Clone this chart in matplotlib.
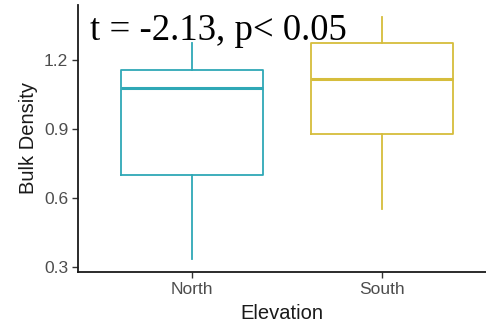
import matplotlib
matplotlib.use("Agg")
import matplotlib.pyplot as plt

# Summary statistics for bulk density by elevation group
groups = ["North", "South"]
whisker_low = [0.335, 0.552]
q1 = [0.700, 0.878]
median = [1.078, 1.117]
q3 = [1.157, 1.274]
whisker_high = [1.274, 1.387]
colors = ["#2FA8B6", "#D6BD3C"]

yticks = [0.3, 0.6, 0.9, 1.2]
ytick_labels = ["0.3", "0.6", "0.9", "1.2"]
annotation = "t = -2.13, p< 0.05"

plt.rcParams["font.family"] = ["Liberation Sans", "DejaVu Sans"]

fig = plt.figure(figsize=(4.86, 3.29), dpi=100)
ax = fig.add_axes([78 / 486, 57 / 329, 408 / 486, 267 / 329])

stats = []
for i, g in enumerate(groups):
    stats.append({
        "label": g,
        "whislo": whisker_low[i],
        "q1": q1[i],
        "med": median[i],
        "q3": q3[i],
        "whishi": whisker_high[i],
        "fliers": [],
    })

for i, s in enumerate(stats):
    c = colors[i]
    ax.bxp([s], positions=[i], widths=0.75, showfliers=False, showcaps=False,
           boxprops=dict(color=c, linewidth=1.3),
           whiskerprops=dict(color=c, linewidth=1.3),
           medianprops=dict(color=c, linewidth=2.2),
           manage_ticks=False)

ax.set_xlim(-0.6, 1.547)
ax.set_ylim(0.278, 1.439)
ax.set_xticks(range(len(groups)))
ax.set_xticklabels(groups)
ax.set_yticks(yticks)
ax.set_yticklabels(ytick_labels)

for side in ["top", "right"]:
    ax.spines[side].set_visible(False)
for side in ["left", "bottom"]:
    ax.spines[side].set_linewidth(1.3)
    ax.spines[side].set_color("#1a1a1a")

ax.tick_params(axis="both", length=4, width=1.0, color="#333333",
               labelcolor="#4D4D4D", labelsize=12.5, pad=3)

ax.set_xlabel("Elevation", fontsize=14.5, color="#1a1a1a", labelpad=5)
ax.set_ylabel("Bulk Density", fontsize=14.5, color="#1a1a1a", labelpad=4)

ax.text(-0.535, 1.287, annotation, fontsize=26.5, family=["Liberation Serif", "DejaVu Serif"],
        color="black", va="baseline", ha="left")

fig.savefig("out.png", dpi=100, facecolor="white")
